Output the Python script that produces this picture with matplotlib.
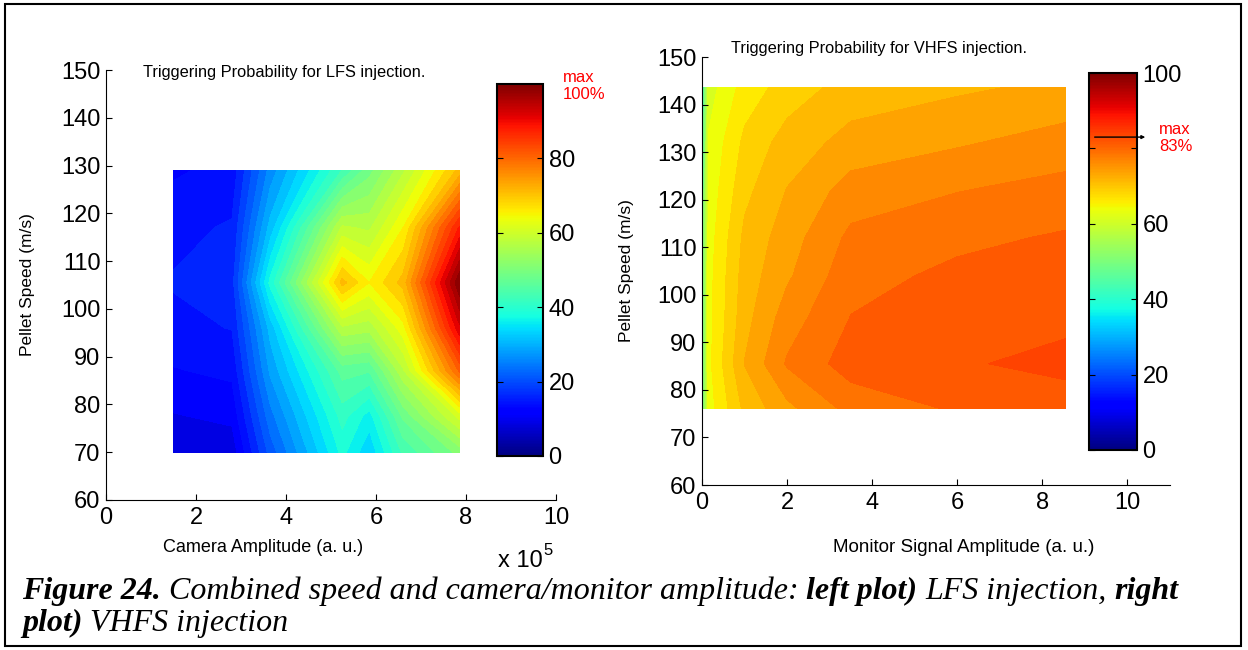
import numpy as np
import matplotlib
matplotlib.use("Agg")
import matplotlib.pyplot as plt
from matplotlib.patches import Rectangle
from matplotlib.cm import ScalarMappable
from matplotlib.colors import Normalize

# LFS injection: camera amplitude (x 1e5) vs pellet speed, triggering probability in %
lfs_amp = [1.5, 2.8, 3.65, 5.25, 5.85, 6.6, 7.86]
lfs_speed = [70, 77.5, 87, 96, 105.5, 117, 129]
lfs_prob = [
    [7.6, 8.4, 21, 38.3, 33, 43, 51],
    [9.8, 10.6, 24, 41, 36.3, 48, 61],
    [12.3, 13.1, 28, 46, 45.2, 57, 80.5],
    [14.3, 15.1, 31, 57, 56, 64, 92],
    [15.2, 16.6, 38.3, 71, 65, 71, 99.9],
    [14.3, 15.3, 31, 58, 57, 65, 88],
    [12.1, 13.4, 26, 42.6, 49, 57, 71],
]

# VHFS injection: monitor signal amplitude vs pellet speed
vhfs_amp = [0, 0.15, 1.0, 2.0, 3.5, 6.0, 8.54]
vhfs_speed = [76, 85.5, 95, 104, 112, 122, 132, 143.5]
vhfs_prob = [
    [44, 63.8, 70.6, 74.3, 78.3, 80.3, 81.6],
    [45, 64.3, 72.6, 77.8, 81.2, 82.3, 83],
    [46, 64.1, 71.6, 76.3, 80.1, 81.4, 82.1],
    [46, 64.1, 71.1, 74.6, 79.1, 80.6, 81.4],
    [45, 63.8, 70.6, 73.8, 78.1, 79.4, 80.3],
    [44, 63.3, 69.3, 72.6, 76.1, 77.4, 78.4],
    [42, 62.8, 68.1, 71.1, 73.4, 74.7, 76.1],
    [40, 61.3, 66.1, 68.6, 71.1, 72.1, 73.1],
]

plt.rcParams["font.family"] = ["Liberation Sans", "DejaVu Sans"]

W, H = 1248, 650
fig = plt.figure(figsize=(W / 100, H / 100), dpi=100)


def box(l, t, r, b):
    return [l / W, 1 - b / H, (r - l) / W, (b - t) / H]


levels = np.linspace(0, 100, 41)
norm = Normalize(0, 100)
tick_fs = 17

ax1 = fig.add_axes(box(106, 70, 556, 500))
ax2 = fig.add_axes(box(702, 57, 1170, 485))

ax1.contourf(lfs_amp, lfs_speed, lfs_prob, levels=levels, cmap="jet", norm=norm)
ax2.contourf(vhfs_amp, vhfs_speed, vhfs_prob, levels=levels, cmap="jet", norm=norm)

for ax in (ax1, ax2):
    ax.spines["top"].set_visible(False)
    ax.spines["right"].set_visible(False)
    ax.set_ylim(60, 150)
    ax.set_yticks(range(60, 151, 10))
    ax.set_xticks(range(0, 11, 2))
    ax.tick_params(direction="in", length=4, width=0.8, labelsize=tick_fs)
    ax.tick_params(axis="x", pad=5)
    ax.tick_params(axis="y", pad=4)
    ax.set_ylabel("Pellet Speed (m/s)", fontsize=12.5)
ax1.set_xlim(0, 10)
ax2.set_xlim(0, 11)
ax1.yaxis.set_label_coords((35 - 106) / 450, 0.5)
ax2.yaxis.set_label_coords((634 - 702) / 468, 0.5)

fig.text(143 / W, 1 - 73 / H, "Triggering Probability for LFS injection.", fontsize=11.8,
         va="center")
fig.text(731 / W, 1 - 49 / H, "Triggering Probability for VHFS injection.", fontsize=11.8,
         va="center")

fig.text(263 / W, 1 - 547 / H, "Camera Amplitude (a. u.)", fontsize=13, ha="center", va="center")
fig.text(964 / W, 1 - 547 / H, "Monitor Signal Amplitude (a. u.)", fontsize=13.5, ha="center", va="center")

renderer = fig.canvas.get_renderer()
xt = fig.text(498 / W, 1 - 567 / H, "x 10", fontsize=17, va="baseline")
xt_w = xt.get_window_extent(renderer).width
fig.text((498 + xt_w + 1) / W, 1 - 555 / H, "5", fontsize=12, va="baseline")

# colorbars
cax1 = fig.add_axes(box(497, 84, 543, 456))
cax2 = fig.add_axes(box(1089, 73, 1137, 450))
cb1 = fig.colorbar(ScalarMappable(norm=norm, cmap="jet"), cax=cax1, ticks=[0, 20, 40, 60, 80])
cb2 = fig.colorbar(ScalarMappable(norm=norm, cmap="jet"), cax=cax2, ticks=[0, 20, 40, 60, 80, 100])
cb2.set_ticklabels(["0", "20", "40", "60", "", "100"])
for cb in (cb1, cb2):
    cb.outline.set_linewidth(1.5)
    cb.ax.tick_params(direction="in", left=True, right=True, length=4, width=0.8,
                      labelsize=tick_fs, pad=4)

lfs_max = np.max(lfs_prob)
vhfs_max = np.max(vhfs_prob)
fig.text(563 / W, 1 - 86 / H, f"max\n{lfs_max:.0f}%", color="red", fontsize=12,
         va="center", linespacing=1.15)
fig.text(1159 / W, 1 - 138 / H, f"max\n{vhfs_max:.0f}%", color="red", fontsize=12,
         va="center", linespacing=1.15)
cax2.annotate("", xy=(1.23, vhfs_max), xytext=(0.06, vhfs_max),
              xycoords=("axes fraction", "data"), textcoords=("axes fraction", "data"),
              arrowprops=dict(arrowstyle="-|>", lw=1, mutation_scale=5, color="black"))

# caption
serif = "Liberation Serif"


def run_width(s, weight, size):
    t = fig.text(0, 0, s, fontsize=size, family=serif, style="italic", fontweight=weight)
    w = t.get_window_extent(renderer).width
    t.remove()
    return w


line1 = [("Figure 24.", "bold"), ("Combined speed and camera/monitor amplitude:", "normal"),
         ("left plot)", "bold"), ("LFS injection,", "normal"), ("right", "bold")]
line2 = [("plot)", "bold"), ("VHFS injection", "normal")]

size = 20
sp = run_width("a a", "normal", size) - run_width("aa", "normal", size)
total = sum(run_width(s, w, size) for s, w in line1) + sp * (len(line1) - 1)
size = size * (1181 - 22) / total
sp = run_width("a a", "normal", size) - run_width("aa", "normal", size)

for runs, base in ((line1, 599), (line2, 631)):
    x = 22
    for s, w in runs:
        fig.text(x / W, 1 - base / H, s, fontsize=size, family=serif, style="italic",
                 fontweight=w, va="baseline")
        x += run_width(s, w, size) + sp

fig.add_artist(Rectangle((5 / W, 4 / H), 1236 / W, 642 / H, transform=fig.transFigure,
                         fill=False, edgecolor="black", lw=1.5))

fig.savefig("out.png", dpi=100)
